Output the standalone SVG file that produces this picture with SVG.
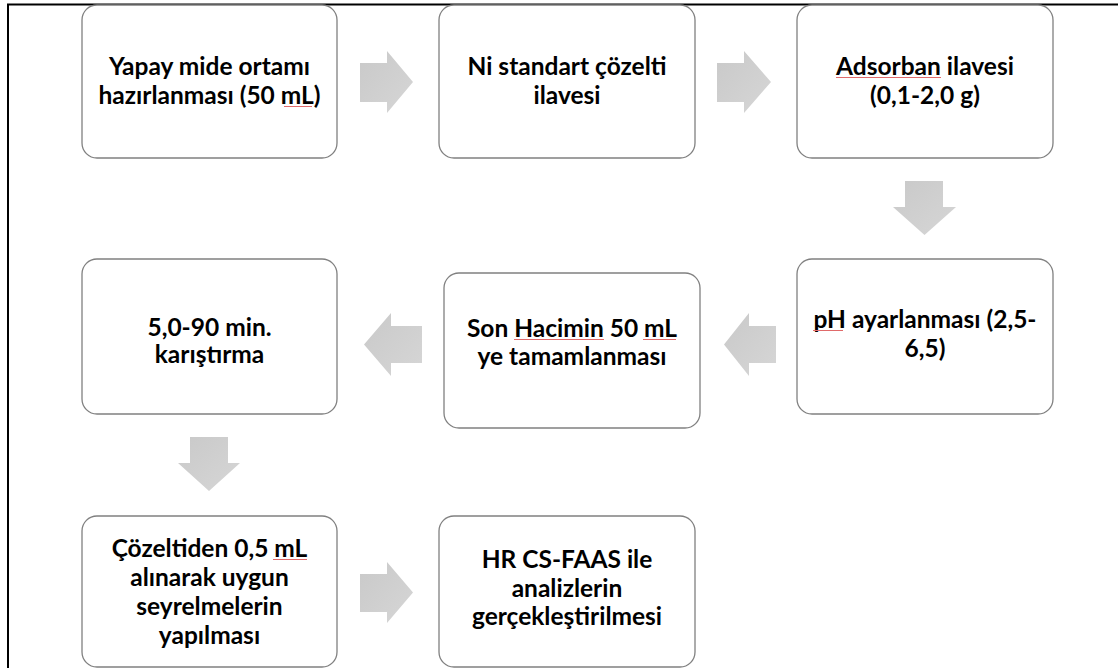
<svg xmlns="http://www.w3.org/2000/svg" width="1118" height="668" viewBox="0 0 1118 668">
<style>
.box{fill:#ffffff;stroke:#808080;stroke-width:1.3}
.t{font-family:Lato,"Liberation Sans",sans-serif;font-weight:bold;font-size:24.5px;fill:#000;text-anchor:middle}
.arr{fill:url(#g)}
.sp{fill:none;stroke:#e06a6a;stroke-width:1}
</style>
<defs>
<linearGradient id="g" x1="0" y1="0" x2="1" y2="1">
<stop offset="0" stop-color="#c9c9c9"/>
<stop offset="1" stop-color="#d6d6d6"/>
</linearGradient>
</defs>
<rect width="1118" height="668" fill="#ffffff"/>
<path d="M8,668 V4.5 H1118" fill="none" stroke="#000" stroke-width="2"/>
<g id="connectors">
<path class="arr" d="M360,63 H387 V51 L413,82 L387,113 V102 H360 Z"/>
<path class="arr" d="M717,63 H744 V51 L771,82 L744,113 V102 H717 Z"/>
<path class="arr" d="M905,181 H943 V207 H956 L924.5,235 L893,207 H905 Z"/>
<path class="arr" d="M776,326 H749 V313 L724,344.5 L749,376 V363 H776 Z"/>
<path class="arr" d="M422,326 H391 V313 L364,344.5 L391,376 V363 H422 Z"/>
<path class="arr" d="M190,437 H228 V463 H240 L209,491 L178,463 H190 Z"/>
<path class="arr" d="M360,574 H387 V562 L413,592.5 L387,623 V612 H360 Z"/>
</g>
<g id="n1">
<rect class="box" x="82" y="5" width="255" height="153" rx="15"/>
<text class="t" x="209.5" y="75">Yapay mide ortamı</text>
<text class="t" x="209.5" y="104">hazırlanması (50 mL)</text>
<path class="sp" d="M284,106.5 H312"/>
</g>
<g id="n2">
<rect class="box" x="439" y="5" width="256" height="153" rx="15"/>
<text class="t" x="567" y="75">Ni standart çözelti</text>
<text class="t" x="567" y="104">ilavesi</text>
</g>
<g id="n3">
<rect class="box" x="797" y="5" width="256" height="153" rx="15"/>
<text class="t" x="925" y="75">Adsorban ilavesi</text>
<text class="t" x="925" y="104">(0,1-2,0 g)</text>
<path class="sp" d="M836,77.5 H941"/>
</g>
<g id="n4">
<rect class="box" x="797" y="259" width="256" height="155" rx="15"/>
<text class="t" x="925" y="328">pH ayarlanması (2,5-</text>
<text class="t" x="925" y="357">6,5)</text>
<path class="sp" d="M813,330.5 H843"/>
</g>
<g id="n5">
<rect class="box" x="444" y="273" width="256" height="155" rx="15"/>
<text class="t" x="572" y="337">Son Hacimin 50 mL</text>
<text class="t" x="572" y="365">ye tamamlanması</text>
<path class="sp" d="M514,339.5 H604 M643,339.5 H676"/>
</g>
<g id="n6">
<rect class="box" x="82" y="259" width="255" height="155" rx="15"/>
<text class="t" x="209.5" y="336">5,0-90 min.</text>
<text class="t" x="209.5" y="363">karıştırma</text>
</g>
<g id="n7">
<rect class="box" x="82" y="516" width="255" height="151" rx="15"/>
<text class="t" x="209.5" y="557">Çözeltiden 0,5 mL</text>
<text class="t" x="209.5" y="586">alınarak uygun</text>
<text class="t" x="209.5" y="615">seyrelmelerin</text>
<text class="t" x="209.5" y="644">yapılması</text>
<path class="sp" d="M273,559.5 H307"/>
</g>
<g id="n8">
<rect class="box" x="439" y="516" width="256" height="151" rx="15"/>
<text class="t" x="567" y="568">HR CS-FAAS ile</text>
<text class="t" x="567" y="597">analizlerin</text>
<text class="t" x="567" y="625">gerçekleştirilmesi</text>
</g>
</svg>
